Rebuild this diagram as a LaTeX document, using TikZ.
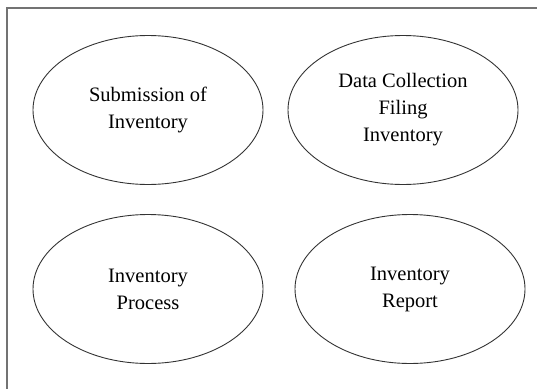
\documentclass[tikz,border=0pt]{standalone}
\usepackage{fontspec}
\setmainfont{Liberation Serif}
\usetikzlibrary{shapes.geometric}
\begin{document}
\begin{tikzpicture}[x=1pt,y=-1pt,
  oval/.style={draw=black!80,line width=0.9pt,ellipse,inner sep=0pt,
    minimum width=230pt,minimum height=149pt,align=center,
    font=\fontsize{20.5}{27}\selectfont}]
\useasboundingbox (0,0) rectangle (537,388);
\draw[black!55,line width=1.4pt] (7,390) -- (7,8) -- (539,8);
\node[oval] (sub) at (148,110) {Submission of\\Inventory};
\node[oval] (dat) at (403,110) {Data Collection\\Filing\\Inventory};
\node[oval] (pro) at (148,289) {Inventory\\Process};
\node[oval] (rep) at (410,289) {Inventory\\Report};
\end{tikzpicture}
\end{document}
